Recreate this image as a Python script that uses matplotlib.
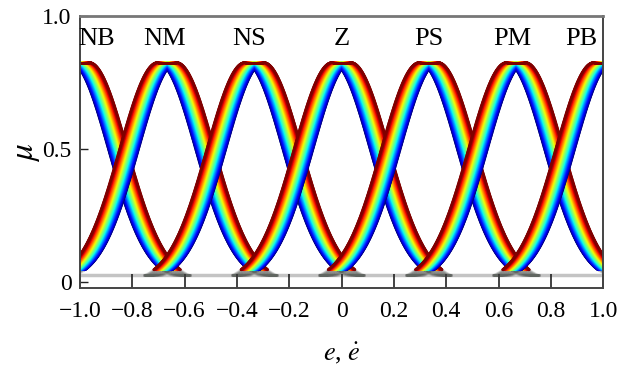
import numpy as np
import matplotlib.pyplot as plt
from matplotlib.collections import LineCollection

plt.rcParams['font.family'] = ['Liberation Serif', 'DejaVu Serif']
plt.rcParams['mathtext.fontset'] = 'stix'

# fuzzy sets: linguistic labels and their centres on the normalised universe
labels = ['NB', 'NM', 'NS', 'Z', 'PS', 'PM', 'PB']
centers = [-1.0, -2 / 3, -1 / 3, 0.0, 1 / 3, 2 / 3, 1.0]
label_x = [-0.935, -0.677, -0.352, 0.0, 0.335, 0.654, 0.916]

# gaussian type-2 set with uncertain mean
peak = 0.825
sigma = 0.145
spread = 0.036
floor = 0.026
support = 0.42
n_levels = 36

xticks = [-1.0, -0.8, -0.6, -0.4, -0.2, 0.0, 0.2, 0.4, 0.6, 0.8, 1.0]
xtick_labels = ['\u22121.0', '\u22120.8', '\u22120.6', '\u22120.4', '\u22120.2',
                '0', '0.2', '0.4', '0.6', '0.8', '1.0']
yticks = [0.0, 0.5, 1.0]
ytick_labels = ['0', '0.5', '1.0']


def mf(x, c, off):
    d = np.maximum(np.abs(x - c) - off, 0.0)
    return peak * np.exp(-d ** 2 / (2 * sigma ** 2))


def curve_segments(x, y):
    pts = np.column_stack([x, y])
    return np.stack([pts[:-1], pts[1:]], axis=1)


fig = plt.figure(figsize=(6.29, 3.89), dpi=100)
ax = fig.add_axes([0.127, 0.2596, 0.832, 0.6992])

jet = plt.get_cmap('jet')
gray = np.array([0.38, 0.40, 0.38, 0.02])

for c in centers:
    x = np.linspace(c - support, c + support, 500)
    for t in np.linspace(0, 1, n_levels):
        off = spread * (2 * t - 1)
        y = mf(x, c, off)
        tail = y < 0.045
        y = np.maximum(y, floor)
        seg = curve_segments(x, y)
        cols = np.tile(np.array(jet(t)), (len(seg), 1))
        cols[tail[1:] | tail[:-1]] = gray
        ax.add_collection(LineCollection(seg, colors=cols, linewidths=1.9,
                                         capstyle='round', zorder=2))

# faint floor line under the sets
ax.axhline(floor, color='#c4c4c4', lw=2.5, zorder=1)

for name, lx in zip(labels, label_x):
    ax.text(lx, 0.915, name, ha='center', va='center', fontsize=19)

ax.set_xlim(-1.0, 1.0)
ax.set_ylim(-0.023, 1.0)
ax.set_xticks(xticks)
ax.set_xticklabels(xtick_labels)
ax.set_yticks(yticks)
ax.set_yticklabels(ytick_labels)
ax.tick_params(axis='both', direction='in', labelsize=17, color='#222222')
ax.tick_params(axis='x', length=10, width=1.2, pad=9)
ax.tick_params(axis='y', length=6, width=1.0, pad=6)
for s in ax.spines.values():
    s.set_color('#444444')
    s.set_linewidth(1.4)
ax.spines['top'].set_color('#777777')
ax.spines['top'].set_linewidth(2.0)

ax.set_xlabel(r'$e$, $\dot{e}$', fontsize=19, labelpad=14)
ax.set_ylabel(r'$\mu$', fontsize=24, labelpad=0)

fig.savefig('out.png', dpi=100)
